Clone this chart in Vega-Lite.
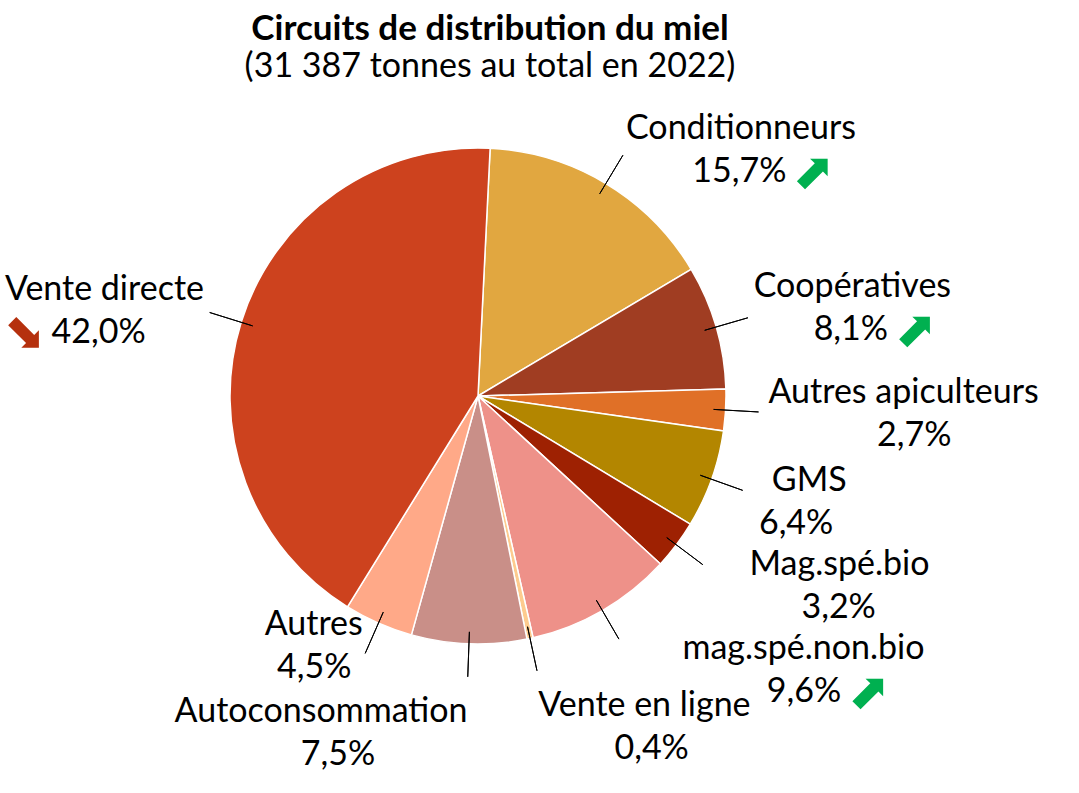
{
  "$schema": "https://vega.github.io/schema/vega-lite/v6.json",
  "width": 956,
  "height": 592,
  "autosize": {"type": "none"},
  "padding": {"left": 0, "top": 100, "right": 123, "bottom": 101},
  "background": "white",
  "config": {"view": {"stroke": null}},
  "title": {
    "text": "Circuits de distribution du miel",
    "subtitle": "(31 387 tonnes au total en 2022)",
    "font": "Lato",
    "fontSize": 35,
    "fontWeight": "bold",
    "color": "#000000",
    "subtitleFont": "Lato",
    "subtitleFontSize": 34,
    "subtitleColor": "#000000",
    "subtitlePadding": 3,
    "anchor": "middle",
    "dx": 12,
    "offset": 16
  },
  "data": {
    "values": [
      {"idx": 1, "canal": "Conditionneurs", "pct": 15.7, "pct_txt": "15,7%", "fleche": "⬈", "tendance": "hausse"},
      {"idx": 2, "canal": "Coopératives", "pct": 8.1, "pct_txt": "8,1%", "fleche": "⬈", "tendance": "hausse"},
      {"idx": 3, "canal": "Autres apiculteurs", "pct": 2.7, "pct_txt": "2,7%", "fleche": "", "tendance": "stable"},
      {"idx": 4, "canal": "GMS", "pct": 6.4, "pct_txt": "6,4%", "fleche": "", "tendance": "stable"},
      {"idx": 5, "canal": "Mag.spé.bio", "pct": 3.2, "pct_txt": "3,2%", "fleche": "", "tendance": "stable"},
      {"idx": 6, "canal": "mag.spé.non.bio", "pct": 9.6, "pct_txt": "9,6%", "fleche": "⬈", "tendance": "hausse"},
      {"idx": 7, "canal": "Vente en ligne", "pct": 0.4, "pct_txt": "0,4%", "fleche": "", "tendance": "stable"},
      {"idx": 8, "canal": "Autoconsommation", "pct": 7.5, "pct_txt": "7,5%", "fleche": "", "tendance": "stable"},
      {"idx": 9, "canal": "Autres", "pct": 4.5, "pct_txt": "4,5%", "fleche": "", "tendance": "stable"},
      {"idx": 10, "canal": "Vente directe", "pct": 42.0, "pct_txt": "42,0%", "fleche": "⬊", "tendance": "baisse"}
    ]
  },
  "encoding": {
    "theta": {"field": "pct", "type": "quantitative", "stack": true, "scale": {"range": [0.049, 6.3322]}},
    "order": {"field": "idx", "type": "quantitative", "sort": "ascending"}
  },
  "layer": [
    {
      "mark": {"type": "arc", "outerRadius": 248, "stroke": "white", "strokeWidth": 1.5},
      "encoding": {
        "color": {
          "field": "canal",
          "type": "nominal",
          "legend": null,
          "scale": {
            "domain": ["Conditionneurs", "Coopératives", "Autres apiculteurs", "GMS", "Mag.spé.bio", "mag.spé.non.bio", "Vente en ligne", "Autoconsommation", "Autres", "Vente directe"],
            "range": ["#E1A740", "#A03D22", "#E07027", "#B38600", "#9E2102", "#EE9189", "#FDCB8E", "#C98F88", "#FFA988", "#CD421E"]
          }
        }
      }
    },
    {
      "mark": {"type": "arc", "padAngle": 3.1416, "fill": "transparent", "stroke": "#000000", "strokeWidth": 1},
      "encoding": {"radius": {"value": 281}, "radius2": {"value": 236}}
    },
    {
      "mark": {
        "type": "text",
        "font": "Lato",
        "fontSize": 34,
        "color": "#000000",
        "baseline": "middle",
        "align": {"expr": "((datum.pct_start + datum.pct_end) / 2 / 100.1 * 360 + 2.8) < 180 ? 'left' : 'right'"},
        "dx": {"expr": "(((datum.pct_start + datum.pct_end) / 2 / 100.1 * 360 + 2.8) < 164 ? 70 * max(0, -cos(((datum.pct_start + datum.pct_end) / 2 / 100.1 * 360 + 2.8) * PI / 180)) : 0)"},
        "dy": {"expr": "-21 + (abs(((datum.pct_start + datum.pct_end) / 2 / 100.1 * 360 + 2.8) - 182) < 18 ? 50 : ((((datum.pct_start + datum.pct_end) / 2 / 100.1 * 360 + 2.8) < 164 && ((datum.pct_start + datum.pct_end) / 2 / 100.1 * 360 + 2.8) > 45) ? -30 * cos(((datum.pct_start + datum.pct_end) / 2 / 100.1 * 360 + 2.8) * PI / 180) : ((((datum.pct_start + datum.pct_end) / 2 / 100.1 * 360 + 2.8) > 195 && ((datum.pct_start + datum.pct_end) / 2 / 100.1 * 360 + 2.8) < 260) ? -13 : 0)))"}
      },
      "encoding": {
        "radius": {"value": 287},
        "text": {"field": "canal", "type": "nominal"}
      }
    },
    {
      "mark": {
        "type": "text",
        "font": "Lato",
        "fontSize": 34,
        "color": "#000000",
        "baseline": "middle",
        "align": "center",
        "dx": {"expr": "(((datum.pct_start + datum.pct_end) / 2 / 100.1 * 360 + 2.8) < 164 ? 70 * max(0, -cos(((datum.pct_start + datum.pct_end) / 2 / 100.1 * 360 + 2.8) * PI / 180)) : 0) + (((datum.pct_start + datum.pct_end) / 2 / 100.1 * 360 + 2.8) < 180 ? 1 : -1) * length(datum.canal) * 8.1"},
        "dy": {"expr": "22 + (abs(((datum.pct_start + datum.pct_end) / 2 / 100.1 * 360 + 2.8) - 182) < 18 ? 50 : ((((datum.pct_start + datum.pct_end) / 2 / 100.1 * 360 + 2.8) < 164 && ((datum.pct_start + datum.pct_end) / 2 / 100.1 * 360 + 2.8) > 45) ? -30 * cos(((datum.pct_start + datum.pct_end) / 2 / 100.1 * 360 + 2.8) * PI / 180) : ((((datum.pct_start + datum.pct_end) / 2 / 100.1 * 360 + 2.8) > 195 && ((datum.pct_start + datum.pct_end) / 2 / 100.1 * 360 + 2.8) < 260) ? -13 : 0)))"}
      },
      "encoding": {
        "radius": {"value": 287},
        "text": {"field": "pct_txt", "type": "nominal"}
      }
    },
    {
      "mark": {
        "type": "text",
        "font": "DejaVu Sans",
        "fontSize": 50,
        "baseline": "middle",
        "align": {"expr": "((datum.pct_start + datum.pct_end) / 2 / 100.1 * 360 + 2.8) < 180 ? 'left' : 'right'"},
        "dx": {"expr": "(((datum.pct_start + datum.pct_end) / 2 / 100.1 * 360 + 2.8) < 164 ? 70 * max(0, -cos(((datum.pct_start + datum.pct_end) / 2 / 100.1 * 360 + 2.8) * PI / 180)) : 0) + (((datum.pct_start + datum.pct_end) / 2 / 100.1 * 360 + 2.8) < 180 ? 1 : -1) * (length(datum.canal) * 8.1 + length(datum.pct_txt) * 9 + 8)"},
        "dy": {"expr": "23 + (abs(((datum.pct_start + datum.pct_end) / 2 / 100.1 * 360 + 2.8) - 182) < 18 ? 50 : ((((datum.pct_start + datum.pct_end) / 2 / 100.1 * 360 + 2.8) < 164 && ((datum.pct_start + datum.pct_end) / 2 / 100.1 * 360 + 2.8) > 45) ? -30 * cos(((datum.pct_start + datum.pct_end) / 2 / 100.1 * 360 + 2.8) * PI / 180) : ((((datum.pct_start + datum.pct_end) / 2 / 100.1 * 360 + 2.8) > 195 && ((datum.pct_start + datum.pct_end) / 2 / 100.1 * 360 + 2.8) < 260) ? -13 : 0)))"}
      },
      "encoding": {
        "radius": {"value": 287},
        "text": {"field": "fleche", "type": "nominal"},
        "color": {
          "field": "tendance",
          "type": "nominal",
          "legend": null,
          "scale": {"domain": ["hausse", "baisse", "stable"], "range": ["#00B050", "#B5300E", "#FFFFFF"]}
        }
      }
    }
  ],
  "resolve": {"scale": {"color": "independent"}}
}
